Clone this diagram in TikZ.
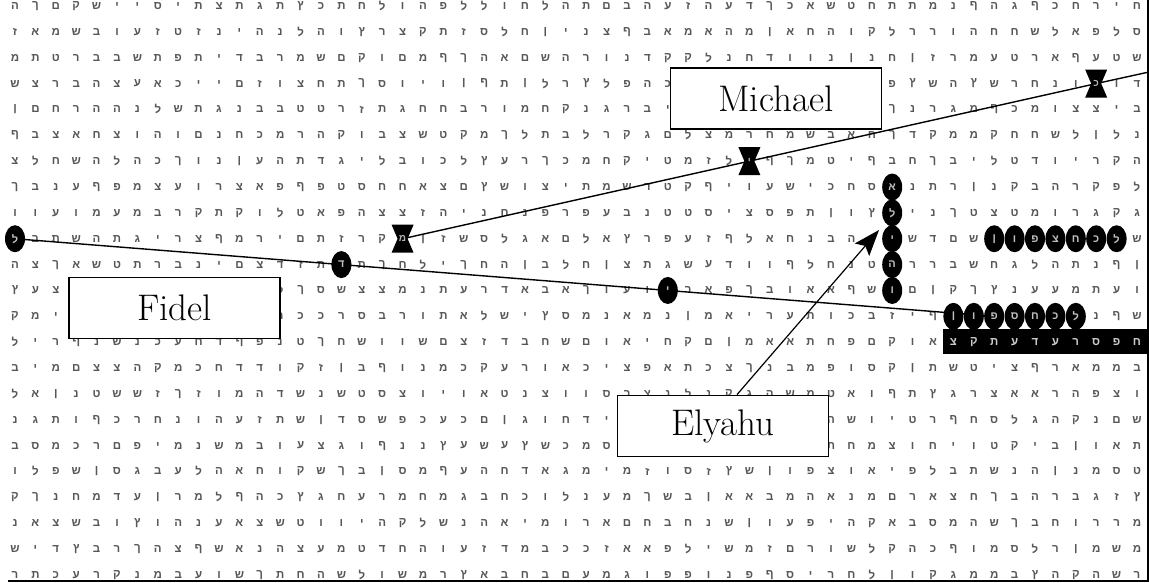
\documentclass[tikz,border=0pt]{standalone}
\usepackage{fontspec}
\newfontfamily\hebfont[Script=Hebrew]{Liberation Sans}
\usetikzlibrary{shapes.geometric,arrows.meta}
\newcommand\heblet[1]{\ifcase#1 י\or ו\or ה\or ת\or ל\or א\or מ\or ר\or ב\or נ\or ש\or כ\or ע\or ד\or ח\or ק\or פ\or צ\or ס\or ג\or ט\or ז\or ם\or ן\or ך\or י\or ו\or ה\or ת\or ל\or א\or מ\or ר\or ב\or נ\or ש\or ח\or ף\or ץ\or ו\fi}
\begin{document}
\begin{tikzpicture}[x=1pt,y=-1pt,
  cellat/.style 2 args={at={({15+20.4*#1},{6+25.86*#2})}},
  gridlet/.style={inner sep=0pt, text=black!66, font=\hebfont\bfseries\fontsize{11.5}{11.5}\selectfont},
  hilite/.style={ellipse, fill=black, minimum width=20pt, minimum height=27pt, inner sep=0pt, text=white!75!black, font=\hebfont\bfseries\fontsize{11}{11}\selectfont},
  bandlet/.style={inner sep=0pt, text=white!80!black, font=\hebfont\bfseries\fontsize{11.5}{11.5}\selectfont},
  marklet/.style={inner sep=0pt, text=white!70!black, font=\hebfont\bfseries\fontsize{10}{10}\selectfont},
  namebox/.style={draw=black, line width=1.8pt, fill=white, minimum width=211pt, minimum height=61pt, inner sep=0pt, font=\fontsize{37}{40}\selectfont},
  conn/.style={line width=1.4pt, black},
  hourglass/.pic={\fill[black] (-11,-14) -- (11,-14) -- (5,0) -- (11,14) -- (-11,14) -- (-5,0) -- cycle;}
]
\useasboundingbox (0,0) rectangle (1149,582);
\clip (0,0) rectangle (1149,582);
\fill[white] (0,0) rectangle (1149,582);
% grid of letters
\pgfmathsetseed{4242}
\foreach \k in {0,...,22}{
  \foreach \j in {0,...,55}{
    \pgfmathrandominteger{\r}{0}{39}
    \node[gridlet, cellat={\j}{\k}] (g-\j-\k) {\heblet{\r}};
  }
}
% black band
\fill[black] (943,329) rectangle (1149,354);
\node[bandlet, cellat={46}{13}] (b46) {צ};
\node[bandlet, cellat={47}{13}] (b47) {ק};
\node[bandlet, cellat={48}{13}] (b48) {ת};
\node[bandlet, cellat={49}{13}] (b49) {ע};
\node[bandlet, cellat={50}{13}] (b50) {ד};
\node[bandlet, cellat={51}{13}] (b51) {ע};
\node[bandlet, cellat={52}{13}] (b52) {ר};
\node[bandlet, cellat={53}{13}] (b53) {ס};
\node[bandlet, cellat={54}{13}] (b54) {פ};
\node[bandlet, cellat={55}{13}] (b55) {ח};
% connector coordinates
\coordinate[cellat={0}{9}] (fc1);
\coordinate[cellat={48}{12}] (fc4);
\coordinate[cellat={19}{9}] (m1);
\coordinate[cellat={36}{6}] (m2);
\coordinate[cellat={53}{3}] (m3);
\coordinate (mend) at (1149,72);
\coordinate (etip) at (879,230);
% lines
\draw[conn] (fc1) -- (fc4);
\draw[conn] (m1) -- (m2) -- (m3) -- (mend);
% Fidel letters
\node[hilite, cellat={0}{9}] (f1) {ל};
\node[hilite, cellat={16}{10}] (f2) {ד};
\node[hilite, cellat={32}{11}] (f3) {י};
% Elyahu column
\node[hilite, cellat={43}{7}] (e1) {א};
\node[hilite, cellat={43}{8}] (e2) {ל};
\node[hilite, cellat={43}{9}] (e3) {י};
\node[hilite, cellat={43}{10}] (e4) {ה};
\node[hilite, cellat={43}{11}] (e5) {ו};
% upper circled row
\node[hilite, cellat={48}{9}] (u48) {ן};
\node[hilite, cellat={49}{9}] (u49) {ו};
\node[hilite, cellat={50}{9}] (u50) {פ};
\node[hilite, cellat={51}{9}] (u51) {צ};
\node[hilite, cellat={52}{9}] (u52) {ח};
\node[hilite, cellat={53}{9}] (u53) {כ};
\node[hilite, cellat={54}{9}] (u54) {ל};
% lower circled row
\node[hilite, cellat={46}{12}] (d46) {ן};
\node[hilite, cellat={47}{12}] (d47) {ו};
\node[hilite, cellat={48}{12}] (d48) {פ};
\node[hilite, cellat={49}{12}] (d49) {ס};
\node[hilite, cellat={50}{12}] (d50) {ח};
\node[hilite, cellat={51}{12}] (d51) {כ};
\node[hilite, cellat={52}{12}] (d52) {ל};
% Michael marks
\pic at (m1) {hourglass};
\pic at (m2) {hourglass};
\pic at (m3) {hourglass};
\node[marklet] (mk1) at (m1) {מ};
\node[marklet] (mk2) at (m2) {י};
\node[marklet] (mk3) at (m3) {כ};
% name boxes
\node[namebox] (mbox) at (776,98.5) {Michael};
\node[namebox] (fbox) at (174.5,308) {Fidel};
\node[namebox] (ebox) at (723,426) {Elyahu};
% arrow
\draw[conn, line width=1.2pt, -{Stealth[length=26pt,width=19pt,inset=5pt]}] ([xshift=14pt]ebox.north) -- (etip);
% frame lines
\draw[line width=1.4pt] (1147.8,0) -- (1147.8,582);
\draw[line width=2pt] (8,580.8) -- (1149,580.8);
\end{tikzpicture}
\end{document}
